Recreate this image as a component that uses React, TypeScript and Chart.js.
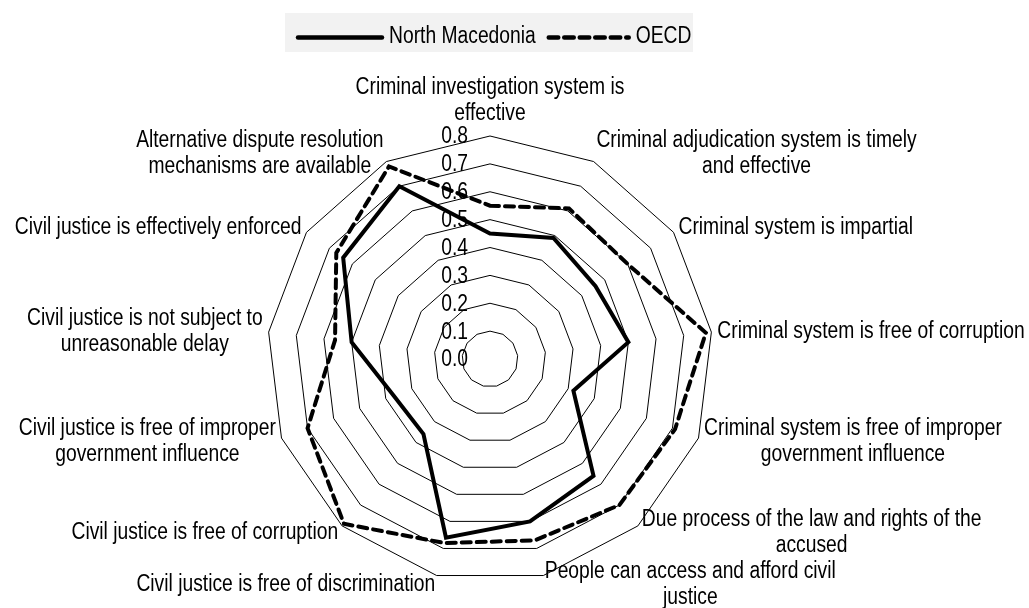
import React, { useEffect, useRef } from "react";
import { Chart, registerables } from "chart.js";

Chart.register(...registerables);

// ---------- data ----------
const categories: string[][] = [
  ["Criminal investigation system is", "effective"],
  ["Criminal adjudication system is timely", "and effective"],
  ["Criminal system is impartial"],
  ["Criminal system is free of corruption"],
  ["Criminal system is free of improper", "government influence"],
  ["Due process of the law and rights of the", "accused"],
  ["People can access and afford civil", "justice"],
  ["Civil justice is free of discrimination"],
  ["Civil justice is free of corruption"],
  ["Civil justice is free of improper", "government influence"],
  ["Civil justice is not subject to", "unreasonable delay"],
  ["Civil justice is effectively enforced"],
  ["Alternative dispute resolution", "mechanisms are available"],
];

const northMacedonia = [0.45, 0.49, 0.46, 0.5, 0.32, 0.56, 0.6, 0.66, 0.36, 0.37, 0.5, 0.64, 0.7];
const oecd = [0.55, 0.61, 0.6, 0.78, 0.71, 0.7, 0.67, 0.68, 0.79, 0.7, 0.56, 0.67, 0.78];

const tickValues = [0, 0.1, 0.2, 0.3, 0.4, 0.5, 0.6, 0.7, 0.8];
const tickLabels = ["0.0", "0.1", "0.2", "0.3", "0.4", "0.5", "0.6", "0.7", "0.8"];
const seriesNames = ["North Macedonia", "OECD"];

// ---------- font handling ----------
type FontChoice = { family: string; sx: number };
function pickFont(): FontChoice {
  const c = document.createElement("canvas").getContext("2d")!;
  const probe = "Criminal system is free of corruption";
  c.font = '40px "Liberation Sans Narrow", monospace';
  const a = c.measureText(probe).width;
  c.font = "40px monospace";
  const b = c.measureText(probe).width;
  if (Math.abs(a - b) > 2) return { family: '"Liberation Sans Narrow"', sx: 1 };
  return { family: '"Liberation Sans", Arial, sans-serif', sx: 0.82 };
}

const FONT_SIZE = 23.5;

function textWidth(ctx: CanvasRenderingContext2D, f: FontChoice, s: string) {
  ctx.font = `${FONT_SIZE}px ${f.family}`;
  return ctx.measureText(s).width * f.sx;
}

function drawText(
  ctx: CanvasRenderingContext2D,
  f: FontChoice,
  s: string,
  x: number,
  y: number,
  align: "left" | "center" | "right"
) {
  ctx.save();
  ctx.font = `${FONT_SIZE}px ${f.family}`;
  const w = ctx.measureText(s).width * f.sx;
  let left = x;
  if (align === "center") left = x - w / 2;
  else if (align === "right") left = x - w;
  ctx.translate(left, y);
  ctx.scale(f.sx, 1);
  ctx.textAlign = "left";
  ctx.textBaseline = "middle";
  ctx.fillStyle = "#000";
  ctx.fillText(s, 0, 0);
  ctx.restore();
}

export default function App() {
  const ref = useRef<HTMLCanvasElement | null>(null);

  useEffect(() => {
    const canvas = ref.current;
    if (!canvas) return;
    const font = pickFont();
    const LINE_H = 26;

    const tickPlugin = {
      id: "tickLabels",
      beforeDatasetsDraw(chart: any) {
        const ctx: CanvasRenderingContext2D = chart.ctx;
        const s = chart.scales.r;
        tickValues.forEach((v, i) => {
          const d = s.getDistanceFromCenterForValue(v);
          drawText(ctx, font, tickLabels[i], s.xCenter - 22, s.yCenter - d + 1, "right");
        });
      },
    };

    const labelPlugin = {
      id: "pointLabelsCustom",
      afterDraw(chart: any) {
        const ctx: CanvasRenderingContext2D = chart.ctx;
        const s = chart.scales.r;
        const dist = s.drawingArea + 6;
        categories.forEach((lines, i) => {
          const p = s.getPointPosition(i, dist);
          const sin = (p.x - s.xCenter) / dist;
          const cos = (s.yCenter - p.y) / dist;
          const widths = lines.map((l) => textWidth(ctx, font, l));
          const bw = Math.max(...widths);
          const bh = lines.length * LINE_H;
          let cx: number;
          let cy: number;
          if (Math.abs(sin) < 0.05) {
            cx = p.x;
            cy = cos > 0 ? p.y - 3 - bh / 2 : p.y + 3 + bh / 2;
          } else {
            cx = sin > 0 ? p.x + bw / 2 : p.x - bw / 2;
            cy = p.y - 3 * cos;
          }
          lines.forEach((l, k) => {
            const y = cy + (k - (lines.length - 1) / 2) * LINE_H;
            drawText(ctx, font, l, cx, y, "center");
          });
        });

        // legend
        const boxW = 408;
        const boxL = s.xCenter - boxW / 2 - 1;
        const boxT = 13;
        const boxH = 39;
        ctx.save();
        ctx.fillStyle = "#f2f2f2";
        ctx.fillRect(boxL, boxT, boxW, boxH);
        const ly = 37.5;
        let x = boxL + 13;
        ctx.strokeStyle = "#000";
        ctx.lineWidth = 4.5;
        ctx.lineCap = "round";
        ctx.setLineDash([]);
        ctx.beginPath();
        ctx.moveTo(x, ly);
        ctx.lineTo(x + 84, ly);
        ctx.stroke();
        ctx.restore();
        x += 84 + 7;
        drawText(ctx, font, seriesNames[0], x, ly - 1, "left");
        x += textWidth(ctx, font, seriesNames[0]) + 13;
        ctx.save();
        ctx.strokeStyle = "#000";
        ctx.lineWidth = 4.5;
        ctx.lineCap = "round";
        ctx.setLineDash([9.5, 6]);
        ctx.beginPath();
        ctx.moveTo(x, ly);
        ctx.lineTo(x + 80, ly);
        ctx.stroke();
        ctx.restore();
        x += 80 + 7;
        drawText(ctx, font, seriesNames[1], x, ly - 1, "left");
      },
    };

    const chart = new Chart(canvas, {
      type: "radar",
      data: {
        labels: categories.map((c) => c.join(" ")),
        datasets: [
          {
            label: seriesNames[0],
            data: northMacedonia,
            borderColor: "#000",
            backgroundColor: "rgba(0,0,0,0)",
            borderWidth: 4,
            fill: false,
            pointRadius: 0,
            pointHoverRadius: 0,
            borderJoinStyle: "miter",
            tension: 0,
          },
          {
            label: seriesNames[1],
            data: oecd,
            borderColor: "#000",
            backgroundColor: "rgba(0,0,0,0)",
            borderWidth: 4,
            borderDash: [9, 6],
            borderCapStyle: "round",
            fill: false,
            pointRadius: 0,
            pointHoverRadius: 0,
            tension: 0,
          },
        ],
      },
      options: {
        responsive: false,
        animation: false,
        devicePixelRatio: 1,
        layout: { padding: { left: 267, right: 316, top: 136, bottom: 26 } },
        plugins: {
          legend: { display: false },
          title: { display: false },
          tooltip: { enabled: false },
        },
        scales: {
          r: {
            min: 0,
            max: 0.8,
            ticks: { display: false, stepSize: 0.1 },
            grid: { color: "#000", lineWidth: 1 },
            angleLines: { display: false },
            pointLabels: { display: false },
          },
        },
      } as any,
      plugins: [tickPlugin, labelPlugin],
    });

    return () => chart.destroy();
  }, []);

  return (
    <div style={{ position: "absolute", left: 0, top: 0, width: 1029, height: 608, background: "#fff" }}>
      <canvas ref={ref} width={1029} height={608} style={{ display: "block" }} />
    </div>
  );
}
